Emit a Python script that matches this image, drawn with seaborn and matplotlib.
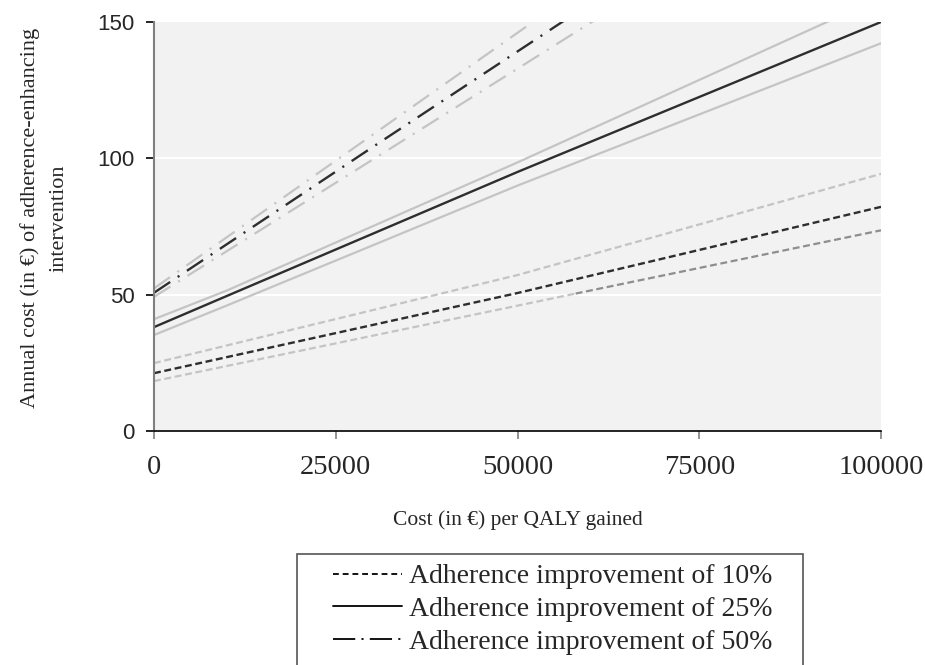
import matplotlib
matplotlib.use("Agg")
import matplotlib.pyplot as plt
from matplotlib.lines import Line2D
from matplotlib.patches import Rectangle
import pandas as pd
import seaborn as sns

# Cost per QALY gained (EUR) at which each curve is evaluated
x_10 = [0, 50000, 100000]
x_25 = [0, 10000, 50000, 100000]
x_50 = [0, 30000, 65000]

# 10% adherence improvement: base case and sensitivity bounds
y10_mid = [21.2, 50.6, 82.2]
y10_hi = [24.9, 57.2, 94.3]
y10_lo_a_x = [0, 58000]
y10_lo_a = [18.3, 50.4]
y10_lo_b_x = [58000, 100000]
y10_lo_b = [50.4, 73.6]

# 25% adherence improvement
y25_mid = [38.1, 49.5, 95.0, 150.0]
y25_hi = [41.0, 51.5, 98.5, 159.0]
y25_lo = [35.2, 46.0, 90.0, 142.2]

# 50% adherence improvement
y50_mid = [50.7, 104.0, 165.6]
y50_hi = [52.3, 108.5, 174.2]
y50_lo = [49.2, 99.4, 158.0]

x_ticks = [0, 25000, 50000, 75000, 100000]
y_ticks = [0, 50, 100, 150]
legend_labels = ["Adherence improvement of 10%",
                 "Adherence improvement of 25%",
                 "Adherence improvement of 50%"]

SERIF = "Liberation Serif"
SANS = "Liberation Sans"

DARK = "#2e2e2e"
LIGHT = "#c4c4c4"
MID = "#8e8e8e"

plt.rcParams["lines.scale_dashes"] = False

DASH = (0, (5.0, 2.6))
DASHDOT = (0, (14.0, 6.5, 1.5, 6.5))

sns.set_style("white")
fig = plt.figure(figsize=(9.25, 6.65), dpi=100)
ax = fig.add_axes([154 / 925, 1 - 431 / 665, (881 - 154) / 925, (431 - 22) / 665])
ax.set_facecolor("#f2f2f2")


def draw(xs, ys, color, ls, lw=1.6):
    df = pd.DataFrame({"x": xs, "y": ys})
    sns.lineplot(data=df, x="x", y="y", ax=ax, color=color, linestyle=ls,
                 linewidth=lw, estimator=None, sort=False)


# light bounds first, base case on top
draw(x_10, y10_hi, LIGHT, DASH)
draw(y10_lo_a_x, y10_lo_a, LIGHT, DASH)
draw(y10_lo_b_x, y10_lo_b, MID, DASH)
draw(x_25, y25_hi, LIGHT, "-")
draw(x_25, y25_lo, LIGHT, "-")
draw(x_50, y50_hi, LIGHT, DASHDOT)
draw(x_50, y50_lo, LIGHT, DASHDOT)
draw(x_10, y10_mid, DARK, DASH, 1.7)
draw(x_25, y25_mid, DARK, "-", 1.7)
draw(x_50, y50_mid, DARK, DASHDOT, 1.7)

ax.set_xlim(0, 100000)
ax.set_ylim(0, 150)
ax.set_xticks(x_ticks)
ax.set_yticks(y_ticks)
ax.set_xticklabels([str(v) for v in x_ticks], fontfamily=SERIF, fontsize=20.5)
ax.set_yticklabels([str(v) for v in y_ticks], fontfamily=SANS, fontsize=16)

for yv in [50, 100]:
    ax.axhline(yv, color="white", lw=1.5, zorder=0.5)

for s in ["top", "right"]:
    ax.spines[s].set_visible(False)
ax.spines["left"].set_color("#808080")
ax.spines["left"].set_linewidth(1.5)
ax.spines["bottom"].set_color("black")
ax.spines["bottom"].set_linewidth(1.2)

ax.tick_params(axis="y", direction="out", length=6, width=1.2, color="black",
               pad=8, left=True)
ax.tick_params(axis="x", direction="out", length=6, width=1.2, color="#808080",
               pad=11, bottom=True)

ax.set_xlabel("Cost (in €) per QALY gained", fontfamily=SERIF, fontsize=15.5,
              labelpad=22)
ax.set_ylabel("Annual cost (in €) of adherence-enhancing\nintervention",
              fontfamily=SERIF, fontsize=16, labelpad=21, linespacing=1.65)
ax.yaxis.label.set_y(0.52)

handles = [Line2D([], [], color="black", lw=1.3, linestyle=(0, (4.2, 2.8))),
           Line2D([], [], color="black", lw=1.3, linestyle="-"),
           Line2D([], [], color="black", lw=1.3, linestyle=(0, (16, 4.5, 1.5, 4.5)))]
fig.legend(handles, legend_labels, loc="upper left",
           bbox_to_anchor=(333 / 925, 1 - 564 / 665), frameon=False,
           prop={"family": SERIF, "size": 20}, handlelength=2.5,
           handletextpad=0.25, labelspacing=0.26, borderpad=0,
           borderaxespad=0)

fig.patches.append(Rectangle((297 / 925, -0.1), (803 - 297) / 925,
                             0.1 + (665 - 554) / 665, transform=fig.transFigure,
                             fill=False, edgecolor="#555555", lw=1.2))

fig.savefig("out.png", dpi=100, facecolor="white")
